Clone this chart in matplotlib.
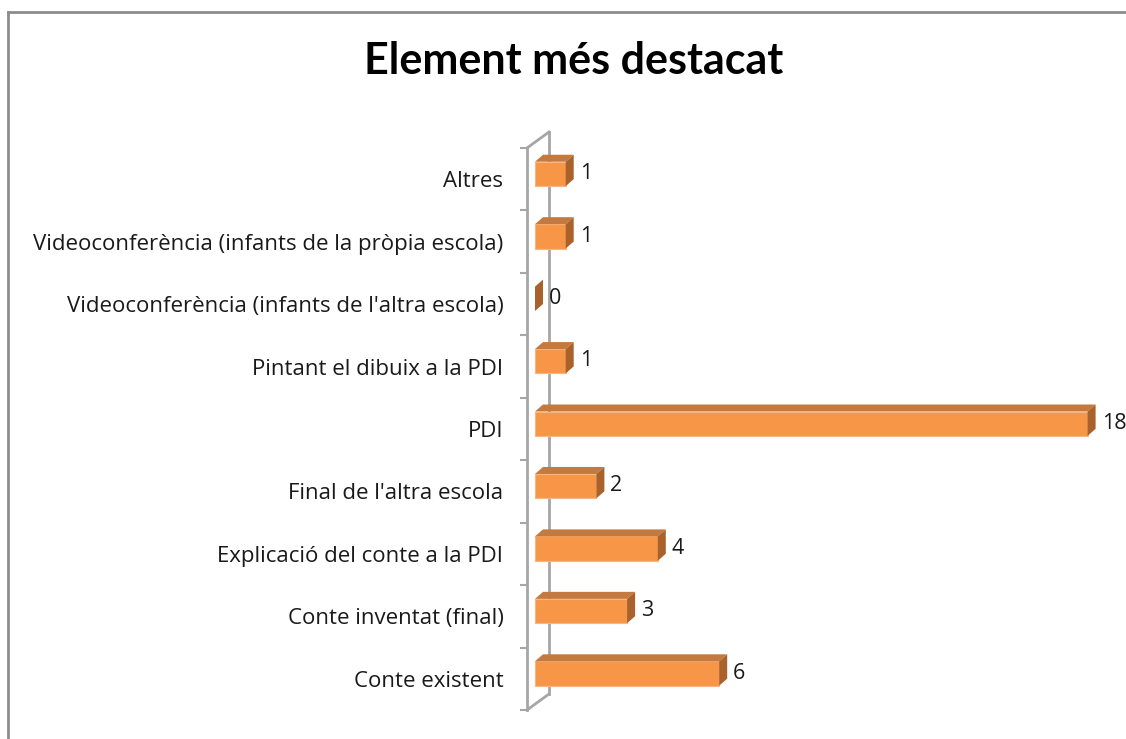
import matplotlib
matplotlib.use("Agg")
import matplotlib.pyplot as plt
from matplotlib.patches import Polygon, Rectangle
from matplotlib.lines import Line2D

plt.rcParams['font.family'] = ['Open Sans', 'DejaVu Sans']

categories = ["Conte existent", "Conte inventat (final)", "Explicació del conte a la PDI",
              "Final de l'altra escola", "PDI", "Pintant el dibuix a la PDI",
              "Videoconferència (infants de l'altra escola)",
              "Videoconferència (infants de la pròpia escola)", "Altres"]
values = [6, 3, 4, 2, 18, 1, 0, 1, 1]
title = "Element més destacat"

W, H = 1126, 739
fig = plt.figure(figsize=(W / 100, H / 100), dpi=100)

# plot area (pixels measured on the reference)
px_unit = 30.7      # pixels per unit of value
x0_px = 535         # where value 0 starts
left_px, top_px, bot_px = 527, 148, 710
ax = fig.add_axes([left_px / W, (H - bot_px) / H, (W - left_px) / W, (bot_px - top_px) / H])
ax.set_xlim(-(x0_px - left_px) / px_unit, (W - x0_px) / px_unit)
ax.set_ylim(-0.5, len(categories) - 0.5)
row_px = (bot_px - top_px) / len(categories)
for s in ax.spines.values():
    s.set_visible(False)
ax.patch.set_alpha(0)

# 3d offsets in data units
dx = 8 / px_unit
dy = 7 / row_px
wall_dx = 22 / px_unit
wall_dy = 16 / row_px

wall_col = '#A6A6A6'
xm = ax.get_xlim()[0]
ym0, ym1 = ax.get_ylim()
ax.add_line(Line2D([xm + wall_dx, xm + wall_dx], [ym0 + wall_dy, ym1 + wall_dy], color=wall_col, lw=2, clip_on=False, zorder=1))
ax.add_line(Line2D([xm, xm], [ym0, ym1], color=wall_col, lw=2, clip_on=False, zorder=1))
ax.add_line(Line2D([xm, xm + wall_dx], [ym1, ym1 + wall_dy], color=wall_col, lw=2, clip_on=False, zorder=1))
ax.add_line(Line2D([xm, xm + wall_dx], [ym0, ym0 + wall_dy], color=wall_col, lw=2, clip_on=False, zorder=1))

front = '#F79646'
top_c = '#C47A3E'
side_c = '#A9622C'
bh = 0.39
for i, v in enumerate(values):
    b = i - 0.11
    t = b + bh
    if v > 0:
        ax.add_patch(Rectangle((0, b), v, bh, facecolor=front, edgecolor='#FBB583', lw=0.8, zorder=3, clip_on=False))
        ax.add_patch(Polygon([(0, t), (v, t), (v + dx, t + dy), (dx, t + dy)], closed=True,
                             facecolor=top_c, edgecolor='none', zorder=3, clip_on=False))
    ax.add_patch(Polygon([(v, b), (v, t), (v + dx, t + dy), (v + dx, b + dy)], closed=True,
                         facecolor=side_c, edgecolor='none', zorder=3, clip_on=False))
    ax.text(v + 14 / px_unit, i + 0.09, str(v), ha='left', va='center', fontsize=15.5, color='#1a1a1a', clip_on=False)

ax.set_yticks(range(len(categories)))
ax.set_yticklabels(categories, fontsize=16, color='#1a1a1a')
ax.tick_params(axis='y', which='major', length=0, pad=17)
ax.set_yticks([k - 0.5 for k in range(len(categories) + 1)], minor=True)
ax.tick_params(axis='y', which='minor', length=5, width=1.5, color=wall_col)
ax.set_xticks([])

# chart border (cropped on the right and bottom)
fig.add_artist(Line2D([8 / W, 8 / W], [0, 1 - 12 / H], color='#8C8C8C', lw=2, transform=fig.transFigure))
fig.add_artist(Line2D([8 / W, 1], [1 - 12 / H, 1 - 12 / H], color='#8C8C8C', lw=2, transform=fig.transFigure))

fig.text(574 / W, 1 - 61 / H, title, ha='center', va='center', fontsize=31, fontweight='bold',
         family=['Lato', 'DejaVu Sans'], color='black')

fig.savefig("out.png", dpi=100)
